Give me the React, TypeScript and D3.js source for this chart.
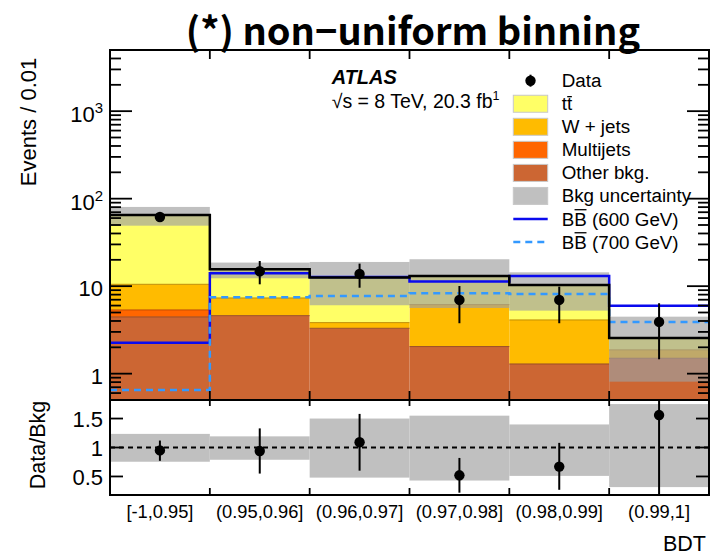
import React from 'react';
import * as d3 from 'd3';

// BDT bins
const binLabels = ['[-1,0.95]', '(0.95,0.96]', '(0.96,0.97]', '(0.97,0.98]', '(0.98,0.99]', '(0.99,1]'];

// Background contributions per bin (events / 0.01)
const otherBkg = [4.45, 4.6, 3.3, 2.04, 1.29, 1.5];
const multijets = [0.9, 0, 0, 0, 0, 0];
const wJets = [5.15, 2.73, 0.53, 4.11, 2.82, 0.37];
const ttbar = [54.6, 8.27, 8.77, 6.95, 6.19, 0.69];

// Total background uncertainty band (lower / upper edge)
const bkgUncLow = [49.1, 12.3, 6.05, 5.63, 5.25, 0.81];
const bkgUncHigh = [80.4, 18.6, 18.9, 20.3, 14.4, 4.48];

// Signal hypotheses
const signal600 = [2.26, 14.0, 12.7, 11.3, 13.1, 5.98];
const signal700 = [0.65, 7.47, 7.73, 8.3, 8.15, 3.9];

// Observed data with error bar edges
const dataValues = [61.8, 14.8, 13.8, 6.96, 6.96, 3.9];
const dataErrLow = [55.0, 10.5, 9.6, 3.77, 3.77, 1.46];
const dataErrHigh = [69.0, 19.4, 18.1, 10.05, 9.87, 6.38];

// Data / background ratio with error bar edges
const ratioValues = [0.95, 0.94, 1.09, 0.52, 0.67, 1.56];
const ratioErrLow = [0.77, 0.55, 0.6, 0.22, 0.27, 0.0];
const ratioErrHigh = [1.12, 1.33, 1.58, 0.82, 1.08, 2.5];

const yMajorTicks = [1, 10, 100, 1000];
const ratioTicks = [0.5, 1, 1.5];

const layerKeys = ['other', 'multijets', 'wjets', 'ttbar'];
const layerColors: Record<string, string> = {
  other: '#CC6633',
  multijets: '#FF6600',
  wjets: '#FFBB00',
  ttbar: '#FFFF66',
};

const FONT = '"Liberation Sans", Arial, Helvetica, sans-serif';

export default function App() {
  const W = 710;
  const H = 554;
  const L = 110;
  const R = 709;
  const T = 50;
  const MB = 400;
  const RB = 495;
  const nBins = binLabels.length;

  const x = d3.scaleLinear().domain([0, nBins]).range([L, R]);
  const y = d3.scaleLog().domain([0.5, 5000]).range([MB, T]);
  const yr = d3.scaleLinear().domain([0.18, 1.82]).range([RB, MB]);
  const yc = (v: number) => y(Math.max(v, 0.5));

  const rows = binLabels.map((_, i) => ({
    other: otherBkg[i],
    multijets: multijets[i],
    wjets: wJets[i],
    ttbar: ttbar[i],
  }));
  const stacked = d3.stack<any>().keys(layerKeys)(rows);
  const totals = rows.map((r: any) => layerKeys.reduce((s, k) => s + r[k], 0));

  const stepPath = (vals: number[]) => {
    const pts: [number, number][] = [];
    vals.forEach((v, i) => {
      pts.push([x(i), yc(v)]);
      pts.push([x(i + 1), yc(v)]);
    });
    return d3.line()(pts) as string;
  };

  // log-axis minor ticks
  const minorTicks: number[] = [];
  for (let k = -1; k <= 3; k++) {
    for (let m = 2; m <= 9; m++) {
      const v = m * Math.pow(10, k);
      if (v >= 0.5 && v <= 5000) minorTicks.push(v);
    }
  }

  const legendRows = 80.7;
  const legendStep = 23.05;
  const legX = 513.3;
  const legW = 34.4;
  const legTextX = 561.7;
  const legendItems = [
    { kind: 'data', label: 'Data' },
    { kind: 'box', color: layerColors.ttbar, label: 'tt' },
    { kind: 'box', color: layerColors.wjets, label: 'W + jets' },
    { kind: 'box', color: layerColors.multijets, label: 'Multijets' },
    { kind: 'box', color: layerColors.other, label: 'Other bkg.' },
    { kind: 'box', color: '#C0C0C0', label: 'Bkg uncertainty' },
    { kind: 'line', color: '#0a0aee', dash: '', label: 'BB (600 GeV)' },
    { kind: 'line', color: '#3399FF', dash: '7,5', label: 'BB (700 GeV)' },
  ];

  return (
    <svg
      width={W}
      height={H}
      style={{ position: 'absolute', left: 0, top: 0, display: 'block', background: '#fff' }}
      fontFamily={FONT}
    >
      <defs>
        <clipPath id="mainClip">
          <rect x={L} y={T} width={R - L} height={MB - T} />
        </clipPath>
        <clipPath id="ratioClip">
          <rect x={L} y={MB} width={R - L} height={RB - MB} />
        </clipPath>
      </defs>

      {/* Title */}
      <text
        x={413}
        y={45}
        textAnchor="middle"
        fontFamily='"Noto Sans CJK JP", "Noto Sans", sans-serif'
        fontWeight={700}
        fontSize={38}
        fill="#000"
      >
        (*) non−uniform binning
      </text>

      {/* Main panel */}
      <g clipPath="url(#mainClip)">
        {stacked.map((layer) =>
          layer.map((d, i) => (
            <rect
              key={`${layer.key}-${i}`}
              x={x(i)}
              width={x(i + 1) - x(i)}
              y={yc(d[1])}
              height={Math.max(0, yc(d[0]) - yc(d[1]))}
              fill={layerColors[layer.key]}
            />
          ))
        )}
        {stacked.map((layer) =>
          layer.map((d, i) =>
            d[1] - d[0] > 0 ? (
              <line
                key={`edge-${layer.key}-${i}`}
                x1={x(i)}
                x2={x(i + 1)}
                y1={yc(d[1])}
                y2={yc(d[1])}
                stroke={d3.color(layerColors[layer.key])!.darker(0.8).toString()}
                strokeWidth={1}
              />
            ) : null
          )
        )}
        {/* background uncertainty */}
        {bkgUncLow.map((lo, i) => (
          <rect
            key={`unc-${i}`}
            x={x(i)}
            width={x(i + 1) - x(i)}
            y={yc(bkgUncHigh[i])}
            height={yc(lo) - yc(bkgUncHigh[i])}
            fill="rgb(160,160,160)"
            fillOpacity={0.66}
          />
        ))}
        <path d={stepPath(signal600)} fill="none" stroke="#0a0aee" strokeWidth={2.5} />
        <path d={stepPath(signal700)} fill="none" stroke="#3399FF" strokeWidth={2.5} strokeDasharray="7,5" />
        <path d={stepPath(totals)} fill="none" stroke="#000" strokeWidth={2.5} />
      </g>

      {/* data points */}
      {dataValues.map((v, i) => {
        const cx = (x(i) + x(i + 1)) / 2;
        return (
          <g key={`data-${i}`}>
            <line x1={cx} x2={cx} y1={yc(dataErrHigh[i])} y2={yc(dataErrLow[i])} stroke="#000" strokeWidth={2} />
            <circle cx={cx} cy={yc(v)} r={5.2} fill="#000" />
          </g>
        );
      })}

      {/* main frame & ticks */}
      <rect x={L} y={T} width={R - L} height={MB - T} fill="none" stroke="#000" strokeWidth={2} />
      {yMajorTicks.map((v) => (
        <g key={`maj-${v}`}>
          <line x1={L} x2={L + 22} y1={y(v)} y2={y(v)} stroke="#000" strokeWidth={1.8} />
          <line x1={R - 22} x2={R} y1={y(v)} y2={y(v)} stroke="#000" strokeWidth={1.8} />
        </g>
      ))}
      {minorTicks.map((v) => (
        <g key={`min-${v}`}>
          <line x1={L} x2={L + 11} y1={y(v)} y2={y(v)} stroke="#000" strokeWidth={1.8} />
          <line x1={R - 11} x2={R} y1={y(v)} y2={y(v)} stroke="#000" strokeWidth={1.8} />
        </g>
      ))}
      {d3.range(1, nBins).map((i) => (
        <g key={`xt-${i}`}>
          <line x1={x(i)} x2={x(i)} y1={T} y2={T + 9} stroke="#000" strokeWidth={1.8} />
          <line x1={x(i)} x2={x(i)} y1={MB - 9} y2={MB} stroke="#000" strokeWidth={1.8} />
        </g>
      ))}

      {/* y tick labels */}
      {yMajorTicks.map((v) => {
        const exp = Math.round(Math.log10(v));
        const ty = y(v);
        if (exp <= 1) {
          return (
            <text key={`yl-${v}`} x={103} y={ty + 10} textAnchor="end" fontSize={22}>
              {String(v)}
            </text>
          );
        }
        return (
          <text key={`yl-${v}`} x={103} y={ty + 11} textAnchor="end" fontSize={22}>
            10
            <tspan fontSize={15} dy={-9}>
              {String(exp)}
            </tspan>
          </text>
        );
      })}

      <text transform={`translate(36,122) rotate(-90)`} textAnchor="middle" fontSize={22}>
        Events / 0.01
      </text>

      {/* ATLAS label */}
      <text x={331.7} y={84} fontSize={20} fontWeight={700} fontStyle="italic">
        ATLAS
      </text>
      <text x={331.7} y={108.3} fontSize={19.5}>
        √s = 8 TeV, 20.3 fb
        <tspan fontSize={12.5} dy={-8.5}>
          1
        </tspan>
      </text>

      {/* legend */}
      {legendItems.map((item, i) => {
        const cy = legendRows + i * legendStep;
        const base = cy + 6.5;
        let symbol: React.ReactNode = null;
        if (item.kind === 'data') {
          symbol = (
            <g>
              <line x1={legX + legW / 2} x2={legX + legW / 2} y1={cy - 6} y2={cy + 6} stroke="#000" strokeWidth={2} />
              <circle cx={legX + legW / 2} cy={cy} r={5.2} fill="#000" />
            </g>
          );
        } else if (item.kind === 'box') {
          symbol = (
            <rect x={legX} y={cy - 8.5} width={legW} height={17} fill={item.color} stroke="#c8c8c8" strokeWidth={1} />
          );
        } else {
          symbol = (
            <line
              x1={legX}
              x2={legX + legW}
              y1={cy}
              y2={cy}
              stroke={item.color}
              strokeWidth={2.5}
              strokeDasharray={item.dash || undefined}
            />
          );
        }
        const fs = 18.8;
        const charW = item.label.startsWith('tt') ? 0.278 * fs : item.label.startsWith('BB') ? 0.667 * fs : 0;
        return (
          <g key={`leg-${i}`}>
            {symbol}
            <text x={legTextX} y={base} fontSize={fs}>
              {item.label}
            </text>
            {charW > 0 && (
              <line
                x1={legTextX + charW + 0.3}
                x2={legTextX + 2 * charW - 0.3}
                y1={base - (item.label.startsWith('tt') ? 13.6 : 15.8)}
                y2={base - (item.label.startsWith('tt') ? 13.6 : 15.8)}
                stroke="#000"
                strokeWidth={1.3}
              />
            )}
          </g>
        );
      })}

      {/* Ratio panel */}
      <g clipPath="url(#ratioClip)">
        {bkgUncLow.map((lo, i) => (
          <rect
            key={`rb-${i}`}
            x={x(i)}
            width={x(i + 1) - x(i)}
            y={yr(bkgUncHigh[i] / totals[i])}
            height={yr(lo / totals[i]) - yr(bkgUncHigh[i] / totals[i])}
            fill="#C0C0C0"
          />
        ))}
        <line x1={L} x2={R} y1={yr(1)} y2={yr(1)} stroke="#000" strokeWidth={2} strokeDasharray="5,4" />
        {ratioValues.map((v, i) => {
          const cx = (x(i) + x(i + 1)) / 2;
          return (
            <g key={`rp-${i}`}>
              <line x1={cx} x2={cx} y1={yr(ratioErrHigh[i])} y2={yr(ratioErrLow[i])} stroke="#000" strokeWidth={2} />
              <circle cx={cx} cy={yr(v)} r={5.2} fill="#000" />
            </g>
          );
        })}
      </g>
      <rect x={L} y={MB} width={R - L} height={RB - MB} fill="none" stroke="#000" strokeWidth={2} />
      {ratioTicks.map((v) => (
        <g key={`rt-${v}`}>
          <line x1={L} x2={L + 13} y1={yr(v)} y2={yr(v)} stroke="#000" strokeWidth={1.8} />
          <line x1={R - 13} x2={R} y1={yr(v)} y2={yr(v)} stroke="#000" strokeWidth={1.8} />
          <text x={103} y={yr(v) + 8.3} textAnchor="end" fontSize={22}>
            {String(v)}
          </text>
        </g>
      ))}
      {d3.range(1, nBins).map((i) => (
        <g key={`rxt-${i}`}>
          <line x1={x(i)} x2={x(i)} y1={MB} y2={MB + 6} stroke="#000" strokeWidth={1.8} />
          <line x1={x(i)} x2={x(i)} y1={RB - 7} y2={RB} stroke="#000" strokeWidth={1.8} />
        </g>
      ))}
      <text transform={`translate(44.5,445) rotate(-90)`} textAnchor="middle" fontSize={21.5}>
        Data/Bkg
      </text>

      {/* bin labels */}
      {binLabels.map((lab, i) => (
        <text key={`bl-${i}`} x={(x(i) + x(i + 1)) / 2} y={517.7} textAnchor="middle" fontSize={18.3}>
          {lab}
        </text>
      ))}
      <text x={706} y={550.5} textAnchor="end" fontSize={21.5}>
        BDT
      </text>
    </svg>
  );
}
